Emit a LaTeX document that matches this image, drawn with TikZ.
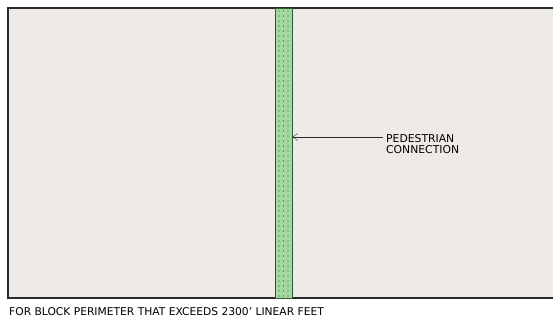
\documentclass[tikz,border=0pt]{standalone}
\usepackage{fontspec}
\setsansfont{DejaVu Sans}
\usetikzlibrary{positioning,arrows.meta}
\definecolor{blockBg}{HTML}{EEEAE5}
\definecolor{walkGreen}{HTML}{A3D89E}
\definecolor{walkEdge}{HTML}{2F5A2F}
\definecolor{lineDark}{HTML}{2A2A2A}

\begin{document}
\begin{tikzpicture}[x=1pt, y=-1pt, font=\sffamily\fontsize{10.7}{12}\selectfont]
\useasboundingbox[fill=white] (0,0) rectangle (553,320);
% block
\fill[blockBg] (8,8) rectangle (553,298);
\draw[lineDark, line width=1.8pt] (553,8) -- (8,8) -- (8,298) -- (553,298);
% pedestrian walk
\node[draw=walkEdge, thick, fill=walkGreen, inner sep=0, minimum width=17pt, minimum height=290pt] (walk) at (283.5,153) {};
\foreach \row in {0,...,57}
  \foreach \col in {279,283.5,288}
    \fill[walkEdge] (\col,11+\row*5) circle (0.6pt);
% label
\node[anchor=west, align=left, inner sep=0, font=\sffamily\fontsize{10.8}{11}\selectfont] (label) at (386,144) {PEDESTRIAN\\CONNECTION};
\coordinate (arrowStart) at ([xshift=-3pt,yshift=7pt]label.west);
\draw[-{Straight Barb[length=5pt,width=7pt]}, lineDark, thin] (arrowStart) -- (arrowStart -| walk.east);
% caption
\node[anchor=west, inner sep=0] (caption) at (9,312) {FOR BLOCK PERIMETER THAT EXCEEDS 2300’ LINEAR FEET};
\end{tikzpicture}
\end{document}
